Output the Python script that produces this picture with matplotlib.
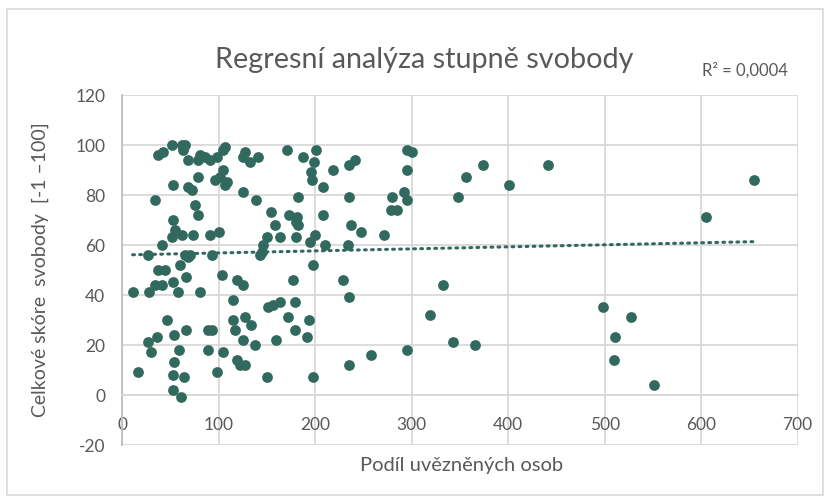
import numpy as np
import matplotlib.pyplot as plt
from matplotlib.patches import Rectangle

# Podíl uvězněných osob vs. celkové skóre svobody
podil = [11, 28, 34, 41, 37, 45, 53, 58, 60, 66, 68, 81, 47, 66, 54, 36, 27, 30, 59, 54,
         17, 53, 64, 53, 61, 89, 93, 89, 98,
         52, 62, 65, 37, 42, 63, 68, 81, 79, 86, 91, 98, 79, 53, 68, 73, 34, 76, 79, 53,
         55, 52, 41, 62, 74, 91, 27, 65, 70, 93,
         107, 105, 127, 125, 133, 141, 171, 188, 201, 199, 196, 197, 105, 102, 96, 109, 107,
         125, 139, 182, 154, 173, 181, 180, 159, 182, 150, 164, 180, 195, 200, 100, 146, 145,
         143, 208, 208, 210,
         104, 119, 125, 177, 115, 151, 156, 164, 179, 198, 115, 127, 134, 117, 172, 194, 179,
         192, 125, 138, 160, 105, 119, 122, 127, 150, 198,
         219, 235, 241, 295, 300, 295, 235, 292, 280, 295, 285, 279, 237, 248, 271, 234, 229,
         235, 333, 319, 343, 366, 295, 258, 235, 356, 348, 374, 401, 441, 498, 527, 511, 510,
         551, 605, 655]
skore = [41, 41, 44, 44, 50, 50, 45, 41, 52, 47, 55, 41, 30, 26, 24, 23, 21, 17, 18, 13,
         9, 8, 7, 2, -1, 26, 26, 18, 9,
         100, 100, 100, 96, 97, 98, 94, 96, 94, 95, 94, 95, 87, 84, 83, 82, 78, 76, 72, 70,
         66, 63, 60, 64, 64, 64, 56, 56, 56, 56,
         99, 98, 97, 95, 93, 95, 98, 95, 98, 93, 89, 86, 90, 87, 86, 85, 84,
         81, 78, 79, 73, 72, 71, 69, 68, 68, 63, 63, 63, 61, 64, 65, 60, 57,
         56, 83, 72, 60,
         48, 46, 44, 46, 38, 35, 36, 37, 37, 52, 30, 31, 28, 26, 31, 30, 26,
         23, 22, 20, 22, 17, 14, 12, 12, 7, 7,
         90, 92, 94, 98, 97, 90, 79, 81, 79, 78, 74, 74, 68, 65, 64, 60, 46,
         39, 44, 32, 21, 20, 18, 16, 12, 87, 79, 92, 84, 92, 35, 31, 23, 14,
         4, 71, 86]

x_ticks = [0, 100, 200, 300, 400, 500, 600, 700]
y_ticks = [-20, 0, 20, 40, 60, 80, 100, 120]

barva = '#31695F'
seda = '#595959'
font = 'Lato'
plt.rcParams['axes.unicode_minus'] = False

fig = plt.figure(figsize=(8.3, 5.02), dpi=100)
ax = fig.add_axes([0.147, 0.1116, 0.814, 0.6975])

ax.scatter(podil, skore, s=60, color=barva, zorder=3, linewidths=0)

# lineární trend
k, q = np.polyfit(podil, skore, 1)
xs = np.array([min(podil), max(podil)])
ax.plot(xs, k * xs + q, color=barva, lw=2.2, linestyle=(0, (0.6, 1.7)),
        dash_capstyle='round', zorder=2)

ax.set_xlim(0, 700)
ax.set_ylim(-20, 120)
ax.set_xticks(x_ticks)
ax.set_yticks(y_ticks)
ax.grid(True, color='#D9D9D9', lw=1.3, zorder=0)
ax.set_axisbelow(True)

for s in ['top', 'right']:
    ax.spines[s].set_visible(False)
ax.spines['bottom'].set_position(('data', 0))
ax.spines['bottom'].set_color('#D9D9D9')
ax.spines['bottom'].set_linewidth(1.3)
ax.spines['left'].set_color('#BFBFBF')
ax.spines['left'].set_linewidth(1.3)
ax.tick_params(axis='both', length=0, labelsize=12.5, labelcolor=seda)
ax.tick_params(axis='x', pad=15)
ax.tick_params(axis='y', pad=12)
for lab in ax.get_xticklabels() + ax.get_yticklabels():
    lab.set_fontfamily(font)

fig.text(0.511, 0.88, 'Regresní analýza stupně svobody', ha='center', va='center',
         fontsize=20.7, color=seda, family=font)
fig.text(0.898, 0.86, 'R² = 0,0004', ha='center', va='center',
         fontsize=12, color=seda, family=font)
fig.text(0.5555, 0.072, 'Podíl uvězněných osob', ha='center', va='center',
         fontsize=14.5, color=seda, family=font)
fig.text(0.048, 0.462, 'Celkové skóre  svobody  [-1 –100]', ha='center', va='center',
         rotation=90, fontsize=14, color=seda, family=font)

fig.patches.append(Rectangle((0.009, 0.012), 0.982, 0.968, transform=fig.transFigure,
                             fill=False, edgecolor='#D9D9D9', lw=1.2))

fig.savefig('out.png', dpi=100)
